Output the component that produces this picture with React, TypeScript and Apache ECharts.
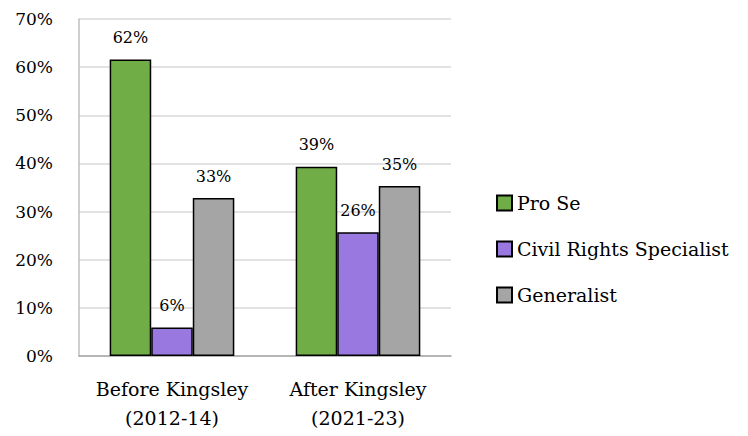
import React, { useEffect, useRef } from "react";
import * as echarts from "echarts";

const categories = ["Before Kingsley\n(2012-14)", "After Kingsley\n(2021-23)"];
const seriesNames = ["Pro Se", "Civil Rights Specialist", "Generalist"];
const proSe = [61.6, 39.3];
const civilRights = [5.9, 25.7];
const generalist = [32.8, 35.3];
const seriesColors = ["#70AD47", "#9978DF", "#A5A5A5"];

const FONT = "DejaVu Serif";

export default function App() {
  const ref = useRef<HTMLDivElement>(null);

  useEffect(() => {
    if (!ref.current) return;
    const chart = echarts.init(ref.current, null, { renderer: "svg" });
    const values = [proSe, civilRights, generalist];
    chart.setOption({
      animation: false,
      textStyle: { fontFamily: FONT, color: "#000" },
      grid: { left: 79, right: 297, top: 19, bottom: 80, containLabel: false },
      legend: {
        orient: "vertical",
        left: 491,
        top: 188,
        itemWidth: 15,
        itemHeight: 15,
        itemGap: 26,
        icon: "rect",
        data: seriesNames,
        textStyle: { fontFamily: FONT, fontSize: 19, color: "#000", lineHeight: 20 },
      },
      xAxis: {
        type: "category",
        data: categories,
        axisTick: { show: false },
        axisLine: { lineStyle: { color: "#A6A6A6", width: 1.5 } },
        axisLabel: { interval: 0, fontFamily: FONT, fontSize: 19, color: "#000", lineHeight: 29, margin: 18 },
      },
      yAxis: {
        type: "value",
        min: 0,
        max: 70,
        interval: 10,
        axisLine: { show: true, lineStyle: { color: "#BFBFBF", width: 1.5 } },
        splitLine: { lineStyle: { color: "#D9D9D9", width: 1.5 } },
        axisLabel: { fontFamily: FONT, fontSize: 17, color: "#000", margin: 26, formatter: "{value}%" },
      },
      series: seriesNames.map((name, i) => ({
        name,
        type: "bar",
        data: values[i],
        barGap: "0%",
        barCategoryGap: "33%",
        itemStyle: { color: seriesColors[i], borderColor: "#000", borderWidth: 1.5 },
        label: {
          show: true,
          position: "top",
          distance: 14,
          fontFamily: FONT,
          fontSize: 16,
          color: "#000",
          formatter: (p: any) => `${Math.round(p.value)}%`,
        },
      })),
    });
    return () => chart.dispose();
  }, []);

  return <div ref={ref} style={{ width: 748, height: 436, position: "absolute", left: 0, top: 0 }} />;
}
